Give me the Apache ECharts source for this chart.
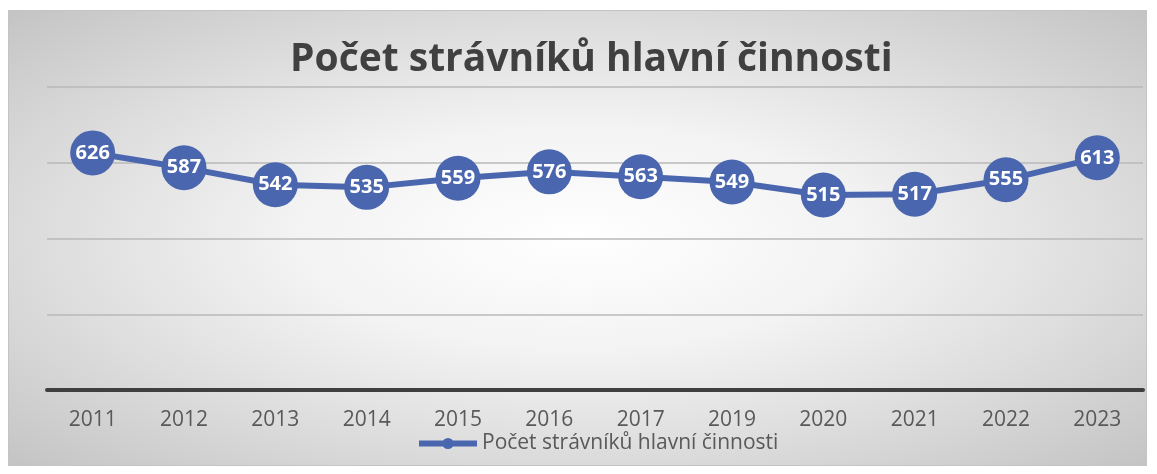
<!DOCTYPE html>
<html>
<head>
<meta charset="utf-8">
<script src="https://cdn.jsdelivr.net/npm/echarts@6/dist/echarts.min.js"></script>
<style>
  html, body { margin: 0; padding: 0; background: #fff; }
  #chart {
    position: absolute; left: 8px; top: 10px;
    width: 1139px; height: 456px;
    border: 1px solid #c4c4c4; box-sizing: border-box;
    background: radial-gradient(ellipse farthest-corner at 50% 50%, #ffffff 0%, #f3f3f3 35%, #dedede 65%, #c4c4c4 100%);
  }
</style>
</head>
<body>
<div id="chart"></div>
<script>
// data
var years = ["2011", "2012", "2013", "2014", "2015", "2016", "2017", "2019", "2020", "2021", "2022", "2023"];
var diners = [626, 587, 542, 535, 559, 576, 563, 549, 515, 517, 555, 613];
var seriesName = "Počet strávníků hlavní činnosti";

var myChart = echarts.init(document.getElementById("chart"));
myChart.setOption({
  backgroundColor: "transparent",
  title: {
    text: "Počet strávníků hlavní činnosti",
    left: 276,
    top: 24,
    textStyle: {
      fontFamily: "Open Sans",
      fontSize: 39,
      fontWeight: "bold",
      color: "#404040",
    },
  },
  legend: {
    data: [seriesName],
    left: 402,
    top: 417,
    itemWidth: 58,
    itemHeight: 14,
    itemGap: 2,
    lineStyle: { width: 6 },
    textStyle: { fontFamily: "Open Sans", fontSize: 21, color: "#595959" },
  },
  grid: { left: 38, right: 3, top: 76, bottom: 75 },
  xAxis: {
    type: "category",
    data: years,
    axisTick: { show: false },
    axisLine: { lineStyle: { color: "#3f3f3f", width: 4 } },
    axisLabel: { fontFamily: "Open Sans", fontSize: 21, color: "#595959", margin: 20 },
  },
  yAxis: {
    type: "value",
    min: 0, max: 800, interval: 200,
    axisLabel: { show: false },
    axisLine: { show: false },
    splitLine: { lineStyle: { color: "#b8b8b8", width: 1.5 } },
  },
  series: [
    {
      name: seriesName,
      type: "line",
      data: diners,
      symbol: "circle",
      symbolSize: 45,
      lineStyle: { color: "#4a66ae", width: 6 },
      itemStyle: { color: "#4a66ae" },
      label: {
        show: true,
        position: "inside",
        color: "#ffffff",
        fontFamily: "Open Sans",
        fontWeight: "bold",
        fontSize: 20,
      },
    },
  ],
});
</script>
</body>
</html>
